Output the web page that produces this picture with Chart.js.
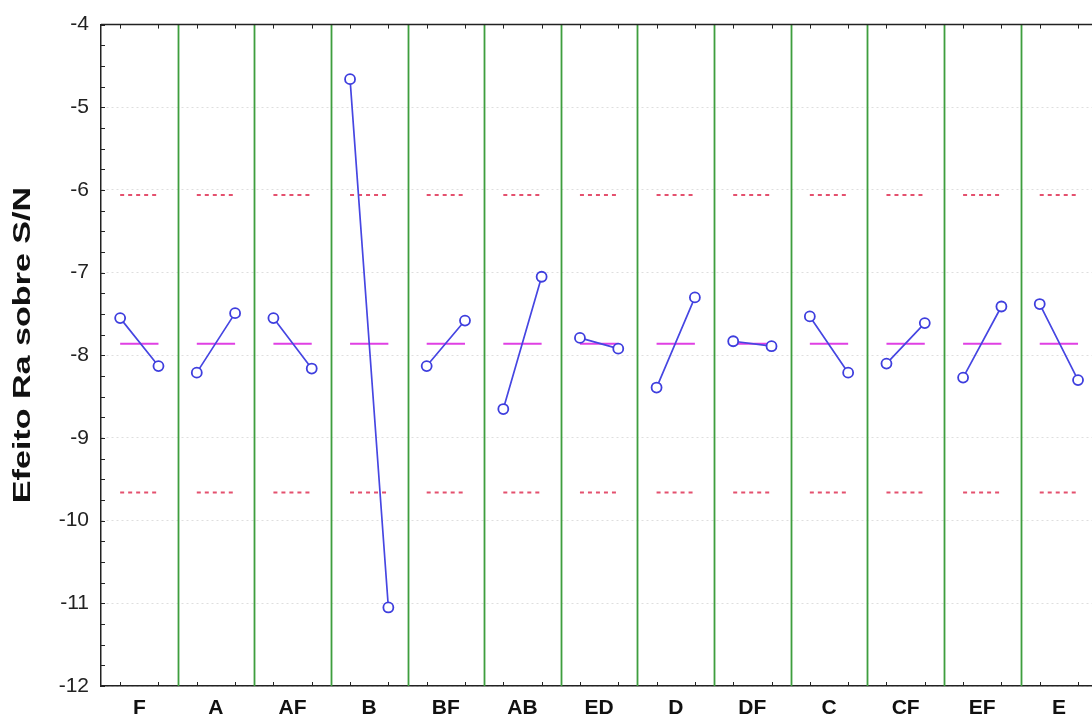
<!DOCTYPE html>
<html>
<head>
<meta charset="utf-8">
<script src="https://cdn.jsdelivr.net/npm/chart.js@4.4.1/dist/chart.umd.min.js"></script>
<style>
  html, body { margin: 0; padding: 0; background: #fff; overflow: hidden; }
  #wrap { width: 1104px; height: 717px; }
</style>
</head>
<body>
<div id="wrap"><canvas id="c" width="1104" height="717"></canvas></div>
<script>
// Factors (one panel each), effect at the low (-) and high (+) level
const factors   = ['F', 'A', 'AF', 'B', 'BF', 'AB', 'ED', 'D', 'DF', 'C', 'CF', 'EF', 'E'];
const lowLevel  = [-7.55, -8.21, -7.55, -4.66, -8.13, -8.65, -7.79, -8.39, -7.83, -7.53, -8.10, -8.27, -7.38];
const highLevel = [-8.13, -7.49, -8.16, -11.05, -7.58, -7.05, -7.92, -7.30, -7.89, -8.21, -7.61, -7.41, -8.30];

// Reference lines: grand mean and the limits around it
const grandMean  = -7.86;
const upperLimit = -6.06;
const lowerLimit = -9.66;

// Y axis range and labels
const yMin = -12;
const yMax = -4;
const yTitle = 'Efeito Ra sobre S/N';

// Build a broken polyline: one short segment per panel, gaps in between
function panelSegments(valueAt) {
  const pts = [];
  factors.forEach((f, i) => {
    pts.push({ x: i + 0.25, y: valueAt(i, 0) });
    pts.push({ x: i + 0.75, y: valueAt(i, 1) });
    pts.push({ x: i + 1, y: null });
  });
  return pts;
}

// Panel separators, inward tick marks, top frame and the rotated axis title
const panelFrame = {
  id: 'panelFrame',
  beforeDatasetsDraw(chart) {
    const { ctx, chartArea: a, scales: { x, y } } = chart;
    ctx.save();
    // green panel separators
    ctx.strokeStyle = '#3e9e3e';
    ctx.lineWidth = 1.8;
    for (let i = 1; i < factors.length; i++) {
      const px = Math.round(x.getPixelForValue(i)) + 0.5;
      ctx.beginPath();
      ctx.moveTo(px, a.top);
      ctx.lineTo(px, a.bottom);
      ctx.stroke();
    }
    // top frame line
    ctx.strokeStyle = '#222';
    ctx.lineWidth = 1.5;
    ctx.beginPath();
    ctx.moveTo(a.left, a.top);
    ctx.lineTo(a.right, a.top);
    ctx.stroke();
    // inward ticks on the y axis every quarter unit
    ctx.lineWidth = 1;
    for (let v = yMin; v <= yMax + 1e-9; v += 0.25) {
      const py = Math.round(y.getPixelForValue(v)) + 0.5;
      ctx.beginPath();
      ctx.moveTo(a.left, py);
      ctx.lineTo(a.left + 4, py);
      ctx.stroke();
    }
    // inward ticks on bottom and top at the level positions
    factors.forEach((f, i) => {
      [0.25, 0.75].forEach(off => {
        const px = Math.round(x.getPixelForValue(i + off)) + 0.5;
        ctx.beginPath();
        ctx.moveTo(px, a.bottom);
        ctx.lineTo(px, a.bottom - 4);
        ctx.moveTo(px, a.top);
        ctx.lineTo(px, a.top + 4);
        ctx.stroke();
      });
    });
    ctx.restore();
  },
  afterDraw(chart) {
    const { ctx, chartArea: a } = chart;
    ctx.save();
    ctx.translate(23, 345);
    ctx.rotate(-Math.PI / 2);
    ctx.scale(1.42, 1);
    ctx.font = 'bold 24px "Liberation Sans", Arial, sans-serif';
    ctx.fillStyle = '#111';
    ctx.textAlign = 'center';
    ctx.textBaseline = 'middle';
    ctx.fillText(yTitle, 0, 0);
    ctx.restore();
  }
};

new Chart(document.getElementById('c'), {
  type: 'line',
  data: {
    datasets: [
      {
        label: 'effect',
        data: panelSegments((i, k) => (k ? highLevel[i] : lowLevel[i])),
        borderColor: '#4646e2',
        borderWidth: 1.7,
        pointRadius: 5,
        pointBackgroundColor: '#ffffff',
        pointBorderColor: '#3e3ede',
        pointBorderWidth: 1.8,
        spanGaps: false
      },
      {
        label: 'mean',
        data: panelSegments(() => grandMean),
        borderColor: '#e040e4',
        borderWidth: 2,
        pointRadius: 0,
        spanGaps: false
      },
      {
        label: 'upper',
        data: panelSegments(() => upperLimit),
        borderColor: '#e4506e',
        borderWidth: 2,
        borderDash: [4, 4],
        pointRadius: 0,
        spanGaps: false
      },
      {
        label: 'lower',
        data: panelSegments(() => lowerLimit),
        borderColor: '#e4506e',
        borderWidth: 2,
        borderDash: [4, 4],
        pointRadius: 0,
        spanGaps: false
      }
    ]
  },
  options: {
    responsive: false,
    animation: false,
    devicePixelRatio: 1,
    layout: { padding: { top: 24, left: 0, right: 0, bottom: 0 } },
    plugins: { legend: { display: false }, tooltip: { enabled: false } },
    scales: {
      x: {
        type: 'linear',
        min: 0,
        max: factors.length,
        grid: { display: false, drawTicks: false },
        border: { display: true, color: '#222', width: 1.5 },
        afterBuildTicks(scale) {
          scale.ticks = factors.map((f, i) => ({ value: i + 0.5 }));
        },
        afterFit(scale) { scale.height = 31; },
        ticks: {
          autoSkip: false,
          maxRotation: 0,
          padding: 10,
          color: '#111',
          font: { family: '"Liberation Sans", Arial, sans-serif', size: 21, weight: 'bold' },
          callback: (v, idx) => factors[idx]
        }
      },
      y: {
        type: 'linear',
        min: yMin,
        max: yMax,
        grid: { color: '#dedede', lineWidth: 1, drawTicks: false },
        border: { display: true, color: '#222', width: 1.5, dash: [2, 3] },
        afterFit(scale) { scale.width = 101; },
        ticks: {
          stepSize: 1,
          padding: 12,
          color: '#222',
          font: { family: '"Liberation Sans", Arial, sans-serif', size: 21 }
        }
      }
    }
  },
  plugins: [panelFrame]
});
</script>
</body>
</html>
